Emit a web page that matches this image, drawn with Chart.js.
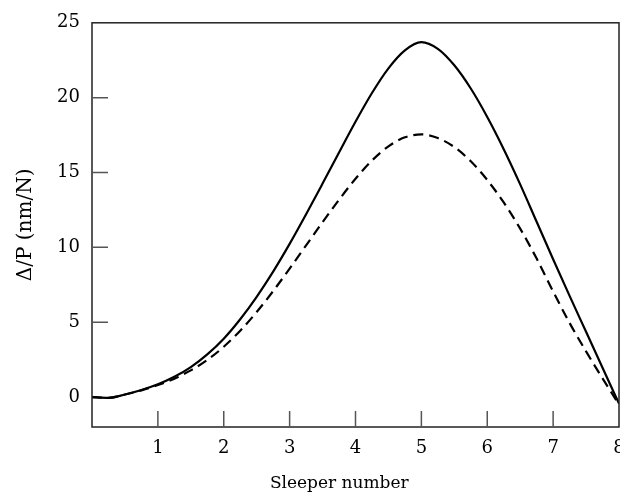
<!DOCTYPE html>
<html>
<head>
<meta charset="utf-8">
<script src="https://cdn.jsdelivr.net/npm/chart.js@4.4.1/dist/chart.umd.min.js"></script>
<style>
    html, body { margin: 0; padding: 0; background: #fff; }
    #wrap { width: 620px; height: 494px; }
</style>
</head>
<body>
<div id="wrap"><canvas id="deflection-chart" width="620" height="494"></canvas></div>
<script>
// sleeper positions (x) and deflection per load
const sleeperPos = [0, 0.25, 0.5, 0.75, 1, 1.25, 1.5, 1.75, 2, 2.25, 2.5, 2.75, 3, 3.25, 3.5, 3.75,
    4, 4.25, 4.5, 4.75, 5, 5.25, 5.5, 5.75, 6, 6.25, 6.5, 6.75, 7, 7.25, 7.5, 7.75, 8];
const solidVals = [0, -0.05, 0.17, 0.47, 0.85, 1.35, 2.0, 2.85, 3.9, 5.2, 6.7, 8.38, 10.23, 12.21, 14.26, 16.34,
    18.39, 20.31, 21.96, 23.16, 23.71, 23.26, 22.16, 20.61, 18.71, 16.56, 14.21, 11.71, 9.21, 6.76, 4.36, 1.96, -0.44];
const dashedVals = [0, -0.05, 0.17, 0.45, 0.8, 1.23, 1.78, 2.48, 3.36, 4.43, 5.68, 7.08, 8.58, 10.13, 11.68, 13.18,
    14.58, 15.8, 16.75, 17.35, 17.55, 17.3, 16.7, 15.75, 14.5, 13.0, 11.25, 9.25, 7.05, 4.95, 3.05, 1.25, -0.5];
const xTicks = [1, 2, 3, 4, 5, 6, 7, 8];
const yTicks = [0, 5, 10, 15, 20, 25];
const yMarks = [5, 10, 15, 20];
const xMarks = [1, 2, 3, 4, 5, 6, 7];

const FONT = "'DejaVu Serif', serif";

// frame + inward tick marks
const frameTicks = {
    id: 'frameTicks',
    afterDatasetsDraw(chart) {
        const { ctx, chartArea: a, scales } = chart;
        ctx.save();
        ctx.strokeStyle = '#222';
        ctx.lineWidth = 1.5;
        ctx.strokeRect(a.left, a.top, a.right - a.left, a.bottom - a.top);
        ctx.strokeStyle = '#555';
        ctx.beginPath();
        yMarks.forEach(v => {
            const y = scales.y.getPixelForValue(v);
            ctx.moveTo(a.left, y);
            ctx.lineTo(a.left + 16, y);
        });
        xMarks.forEach(v => {
            const x = scales.x.getPixelForValue(v);
            ctx.moveTo(x, a.bottom);
            ctx.lineTo(x, a.bottom - 16);
        });
        ctx.stroke();
        ctx.restore();
    }
};

new Chart('deflection-chart', {
    type: 'line',
    data: {
        datasets: [{
            data: sleeperPos.map((x, i) => ({ x: x, y: solidVals[i] })),
            borderColor: '#000',
            borderWidth: 2.2,
            pointRadius: 0,
            cubicInterpolationMode: 'monotone'
        }, {
            data: sleeperPos.map((x, i) => ({ x: x, y: dashedVals[i] })),
            borderColor: '#000',
            borderWidth: 2.2,
            borderDash: [10, 6],
            pointRadius: 0,
            cubicInterpolationMode: 'monotone'
        }]
    },
    options: {
        responsive: false,
        animation: false,
        layout: { padding: { top: 16, right: 1, left: 0, bottom: 0 } },
        plugins: {
            legend: { display: false },
            tooltip: { enabled: false }
        },
        scales: {
            x: {
                type: 'linear',
                min: 0,
                max: 8,
                afterBuildTicks: s => { s.ticks = xTicks.map(v => ({ value: v })); },
                afterFit: s => { s.height = 67; s.paddingRight = 0; s.paddingLeft = 0; },
                grid: { display: false, drawTicks: false },
                border: { display: false },
                ticks: {
                    padding: 11,
                    color: '#000',
                    font: { family: FONT, size: 18 },
                    maxRotation: 0
                },
                title: {
                    display: true,
                    text: 'Sleeper number      ',
                    color: '#000',
                    font: { family: FONT, size: 17 },
                    padding: { top: 3, bottom: 0 }
                }
            },
            y: {
                min: -2,
                max: 25,
                afterBuildTicks: s => { s.ticks = yTicks.map(v => ({ value: v })); },
                afterFit: s => { s.width = 92; },
                grid: { display: false, drawTicks: false },
                border: { display: false },
                ticks: {
                    padding: 12,
                    color: '#000',
                    font: { family: FONT, size: 18 }
                },
                title: {
                    display: true,
                    text: 'Δ/P (nm/N)',
                    color: '#000',
                    font: { family: FONT, size: 20 },
                    padding: { top: 14, bottom: 0 }
                }
            }
        }
    },
    plugins: [frameTicks]
});
</script>
</body>
</html>
